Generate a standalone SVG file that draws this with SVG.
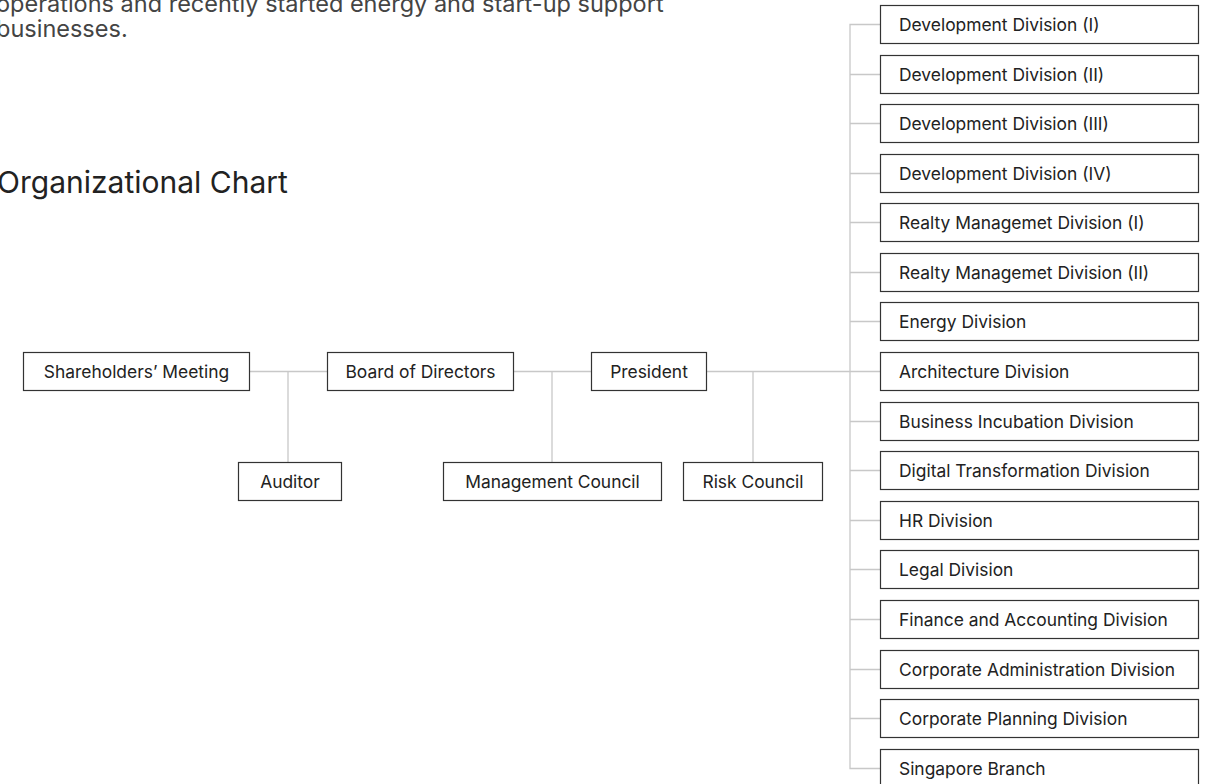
<svg xmlns="http://www.w3.org/2000/svg" width="1212" height="784" viewBox="0 0 1212 784">
<style>
  .bx { fill: #ffffff; stroke: #333333; stroke-width: 1.2; }
  .lb { font-family: Inter, "Liberation Sans", sans-serif; font-size: 17.4px; fill: #222222; }
  .c { text-anchor: middle; }
  .cn { stroke: #c8c8c8; stroke-width: 1.3; fill: none; }
  .para { font-family: Inter, "Liberation Sans", sans-serif; font-size: 23.5px; fill: #444444; }
  .title { font-family: Inter, "Liberation Sans", sans-serif; font-size: 30px; fill: #222222; }
</style>
<rect width="1212" height="784" fill="#ffffff"/>
<text class="para" x="-4" y="12">operations and recently started energy and start-up support</text>
<text class="para" x="-4" y="37">businesses.</text>
<text class="title" x="-3" y="193">Organizational Chart</text>

<g id="connectors">
  <path class="cn" d="M249 371.5 H327 M288 371.5 V462"/>
  <path class="cn" d="M513 371.5 H591 M552 371.5 V462"/>
  <path class="cn" d="M706 371.5 H880 M753 371.5 V462"/>
  <path class="cn" d="M880 24.5 H850 V768.5 H880"/>
  <path class="cn" d="M850 74.5 H880 M850 123.5 H880 M850 173.5 H880 M850 222.5 H880 M850 272.5 H880 M850 321.5 H880 M850 421.5 H880 M850 470.5 H880 M850 520.5 H880 M850 569.5 H880 M850 619.5 H880 M850 669.5 H880 M850 718.5 H880"/>
</g>

<g id="shareholders"><rect class="bx" x="23.5" y="352.5" width="226" height="38"/><text class="lb c" x="136.5" y="378">Shareholders’ Meeting</text></g>
<g id="auditor"><rect class="bx" x="238.5" y="462.5" width="103" height="38"/><text class="lb c" x="290" y="488">Auditor</text></g>
<g id="board"><rect class="bx" x="327.5" y="352.5" width="186" height="38"/><text class="lb c" x="420.5" y="378">Board of Directors</text></g>
<g id="management"><rect class="bx" x="443.5" y="462.5" width="218" height="38"/><text class="lb c" x="552.5" y="488">Management Council</text></g>
<g id="president"><rect class="bx" x="591.5" y="352.5" width="115" height="38"/><text class="lb c" x="649" y="378">President</text></g>
<g id="risk"><rect class="bx" x="683.5" y="462.5" width="139" height="38"/><text class="lb c" x="753" y="488">Risk Council</text></g>

<g id="dev1"><rect class="bx" x="880.5" y="5.5" width="318" height="38"/><text class="lb" x="899" y="31">Development Division (I)</text></g>
<g id="dev2"><rect class="bx" x="880.5" y="55.5" width="318" height="38"/><text class="lb" x="899" y="81">Development Division (II)</text></g>
<g id="dev3"><rect class="bx" x="880.5" y="104.5" width="318" height="38"/><text class="lb" x="899" y="130">Development Division (III)</text></g>
<g id="dev4"><rect class="bx" x="880.5" y="154.5" width="318" height="38"/><text class="lb" x="899" y="180">Development Division (IV)</text></g>
<g id="realty1"><rect class="bx" x="880.5" y="203.5" width="318" height="38"/><text class="lb" x="899" y="229">Realty Managemet Division (I)</text></g>
<g id="realty2"><rect class="bx" x="880.5" y="253.5" width="318" height="38"/><text class="lb" x="899" y="279">Realty Managemet Division (II)</text></g>
<g id="energy"><rect class="bx" x="880.5" y="302.5" width="318" height="38"/><text class="lb" x="899" y="328">Energy Division</text></g>
<g id="architecture"><rect class="bx" x="880.5" y="352.5" width="318" height="38"/><text class="lb" x="899" y="378">Architecture Division</text></g>
<g id="incubation"><rect class="bx" x="880.5" y="402.5" width="318" height="38"/><text class="lb" x="899" y="428">Business Incubation Division</text></g>
<g id="digital"><rect class="bx" x="880.5" y="451.5" width="318" height="38"/><text class="lb" x="899" y="477">Digital Transformation Division</text></g>
<g id="hr"><rect class="bx" x="880.5" y="501.5" width="318" height="38"/><text class="lb" x="899" y="527">HR Division</text></g>
<g id="legal"><rect class="bx" x="880.5" y="550.5" width="318" height="38"/><text class="lb" x="899" y="576">Legal Division</text></g>
<g id="finance"><rect class="bx" x="880.5" y="600.5" width="318" height="38"/><text class="lb" x="899" y="626">Finance and Accounting Division</text></g>
<g id="corpadmin"><rect class="bx" x="880.5" y="650.5" width="318" height="38"/><text class="lb" x="899" y="676">Corporate Administration Division</text></g>
<g id="corpplan"><rect class="bx" x="880.5" y="699.5" width="318" height="38"/><text class="lb" x="899" y="725">Corporate Planning Division</text></g>
<g id="singapore"><rect class="bx" x="880.5" y="749.5" width="318" height="38"/><text class="lb" x="899" y="775">Singapore Branch</text></g>
</svg>
